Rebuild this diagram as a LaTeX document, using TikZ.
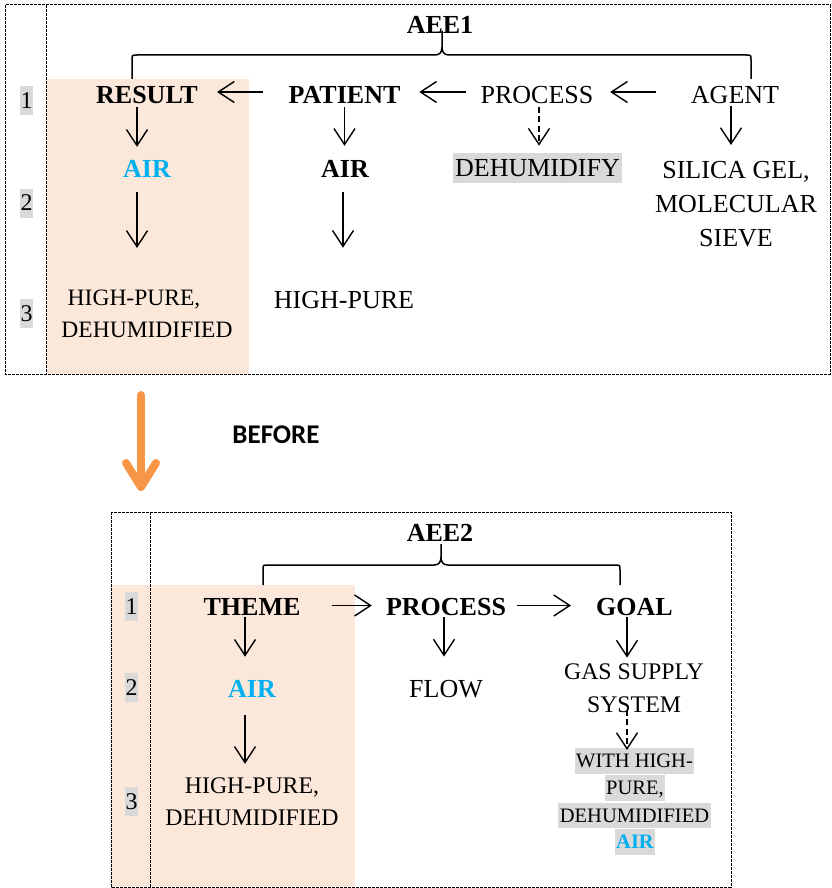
\documentclass[tikz,border=0pt]{standalone}
\usepackage{fontspec}
\setmainfont{Liberation Serif}
\newfontfamily\calib{Carlito}
\usetikzlibrary{arrows.meta}
\definecolor{peach}{HTML}{FCE8DA}
\definecolor{airblue}{HTML}{00B0F0}
\definecolor{hlgray}{HTML}{D9D9D9}
\definecolor{orangearr}{HTML}{F79646}
\begin{document}
\begin{tikzpicture}[x=1pt,y=-1pt,
  txt/.style={inner sep=0pt, font=\fontsize{26}{34}\selectfont},
  btxt/.style={inner sep=0pt, font=\fontsize{26}{34}\selectfont\bfseries},
  airtxt/.style={btxt, text=airblue},
  num/.style={fill=hlgray, inner sep=0.5pt, minimum height=29pt, font=\fontsize{24}{28}\selectfont},
  hlline/.style={fill=hlgray, inner xsep=1.5pt, inner ysep=1.8pt, text height=17.5pt, text depth=4pt, font=\fontsize{20.5}{27}\selectfont},
  boxline/.style={line width=1pt, dash pattern=on 3pt off 1pt},
  arr/.style={line width=1.4pt, -{Straight Barb[length=16pt,width=21pt]}},
  darr/.style={arr, dash pattern=on 6pt off 3.5pt},
  bracestyle/.style={line width=1.5pt},
  oarr/.style={line width=8pt, draw=orangearr, line cap=round, line join=round}
]
\useasboundingbox (0,0) rectangle (831,888);

% backgrounds
\fill[peach] (47,79) rectangle (249,374);
\fill[peach] (111,585) rectangle (355,887);

% frames
\draw[boxline] (5,5) rectangle (830,374);
\draw[boxline] (46,5) -- (46,374);
\draw[boxline] (111,512) rectangle (731,887);
\draw[boxline] (150,512) -- (150,887);

% row numbers
\node[num] (n1) at (26.5,100.5) {1};
\node[num] (n2) at (26.5,203) {2};
\node[num] (n3) at (26.5,313.5) {3};
\node[num] (m1) at (131.5,606.5) {1};
\node[num] (m2) at (131.5,687.5) {2};
\node[num] (m3) at (131.5,801.5) {3};

% ---------- AEE1 ----------
\node[btxt] (aee1) at (440,24.5) {AEE1};
\node[btxt] (result) at (147,95) {RESULT};
\node[btxt] (patient) at (344.5,95) {PATIENT};
\node[txt] (process1) at (537,95) {PROCESS};
\node[txt] (agent) at (735,95) {AGENT};
\node[airtxt] (airA) at (147,169) {AIR};
\node[btxt] (airB) at (345,169) {AIR};
\node[txt, fill=hlgray, inner xsep=2pt, inner ysep=6.5pt] (dehum) at (537.5,168) {DEHUMIDIFY};
\node[txt, align=center] (silica) at (736,204) {SILICA GEL,\\MOLECULAR\\SIEVE};
\node[txt, align=center, font=\fontsize{23.5}{32}\selectfont] (hp1) at (147,314) {HIGH-PURE,\hspace*{26pt}\\DEHUMIDIFIED};
\node[txt] (hp2) at (344,300) {HIGH-PURE};

% brace 1
\draw[bracestyle] (132,79) -- (132,60) .. controls (132,55) .. (137,55) -- (435,55) .. controls (440,55) and (442,52) .. (442,47) -- (442,31);
\draw[bracestyle] (751,79) -- (751,60) .. controls (751,55) .. (746,55) -- (449,55) .. controls (444,55) and (442,52) .. (442,47);

% arrows AEE1
\draw[arr] ([xshift=-25pt,yshift=3pt]patient.west) -- ([xshift=19pt,yshift=3pt]result.east);
\draw[arr] ([xshift=-14.6pt,yshift=3pt]process1.west) -- ([xshift=18.7pt,yshift=3pt]patient.east);
\draw[arr] ([xshift=-35pt,yshift=3pt]agent.west) -- ([xshift=16.6pt,yshift=3pt]process1.east);
\draw[arr] ([xshift=-10pt,yshift=-3.4pt]result.south) -- ([xshift=-10pt,yshift=13.4pt]airA.north);
\draw[arr] ([yshift=-3.4pt]patient.south) -- ([xshift=-0.5pt,yshift=14.4pt]airB.north);
\draw[darr] ([xshift=2pt,yshift=-3pt]process1.south) -- ([xshift=1.5pt,yshift=7pt]dehum.north);
\draw[arr] ([xshift=-4pt,yshift=-2.4pt]agent.south) -- ([xshift=-5pt,yshift=16pt]silica.north);
\draw[arr] ([xshift=-10pt,yshift=-14.4pt]airA.south) -- ([xshift=-10pt,yshift=42pt]hp1.north);
\draw[arr] ([xshift=-2pt,yshift=-14.4pt]airB.south) -- ([xshift=-1pt,yshift=43.4pt]hp2.north);

% ---------- transition ----------
\coordinate (otop) at (141,395);
\coordinate (otip) at (141,487);
\draw[oarr] (otop) -- (otip);
\draw[oarr] (126,463) -- (otip) -- (156,463);
\node[inner sep=0pt, font=\calib\bfseries\fontsize{27}{30}\selectfont] (before) at (276,435) {BEFORE};

% ---------- AEE2 ----------
\node[btxt] (aee2) at (440,533) {AEE2};
\node[btxt] (theme) at (252,607) {THEME};
\node[btxt] (process2) at (446,607) {PROCESS};
\node[btxt] (goal) at (634.5,607) {GOAL};
\node[airtxt] (airC) at (252,688.5) {AIR};
\node[txt] (flow) at (446,689) {FLOW};
\node[txt, align=center, font=\fontsize{23.8}{32.5}\selectfont] (gas) at (634,688) {GAS SUPPLY\\SYSTEM};
\node[hlline] (w1) at (634.5,761) {WITH HIGH-};
\node[hlline] (w2) at (635,788) {PURE,};
\node[hlline] (w3) at (634.5,815.5) {DEHUMIDIFIED};
\node[hlline, text=airblue, font=\fontsize{20.5}{27}\selectfont\bfseries] (w4) at (635,842) {AIR};
\node[txt, align=center, font=\fontsize{23.8}{32}\selectfont] (hp3) at (252,802) {HIGH-PURE,\\DEHUMIDIFIED};

% brace 2
\draw[bracestyle] (263,585) -- (263,570) .. controls (263,565) .. (268,565) -- (434,565) .. controls (439,565) and (441,562) .. (441,557) -- (441,544);
\draw[bracestyle] (620,585) -- (620,570) .. controls (620,565) .. (615,565) -- (448,565) .. controls (443,565) and (441,562) .. (441,557);

% arrows AEE2
\draw[arr] ([xshift=31.6pt,yshift=1.5pt]theme.east) -- ([xshift=-14pt,yshift=1.5pt]process2.west);
\draw[arr] ([xshift=11pt,yshift=1.5pt]process2.east) -- ([xshift=-25pt,yshift=1.5pt]goal.west);
\draw[arr] ([xshift=-7pt,yshift=-1.5pt]theme.south) -- ([xshift=-7pt,yshift=23pt]airC.north);
\draw[arr] ([xshift=-2pt,yshift=-1.5pt]process2.south) -- ([xshift=-2pt,yshift=23.4pt]flow.north);
\draw[arr] ([xshift=-7.5pt,yshift=-1.5pt]goal.south) -- ([xshift=-7pt,yshift=6pt]gas.north);
\draw[darr] ([xshift=-7pt,yshift=2.5pt]gas.south) -- ([xshift=-7.5pt,yshift=-1.7pt]w1.north);
\draw[arr] ([xshift=-7pt,yshift=-18pt]airC.south) -- ([xshift=-7pt,yshift=14pt]hp3.north);
\end{tikzpicture}
\end{document}
